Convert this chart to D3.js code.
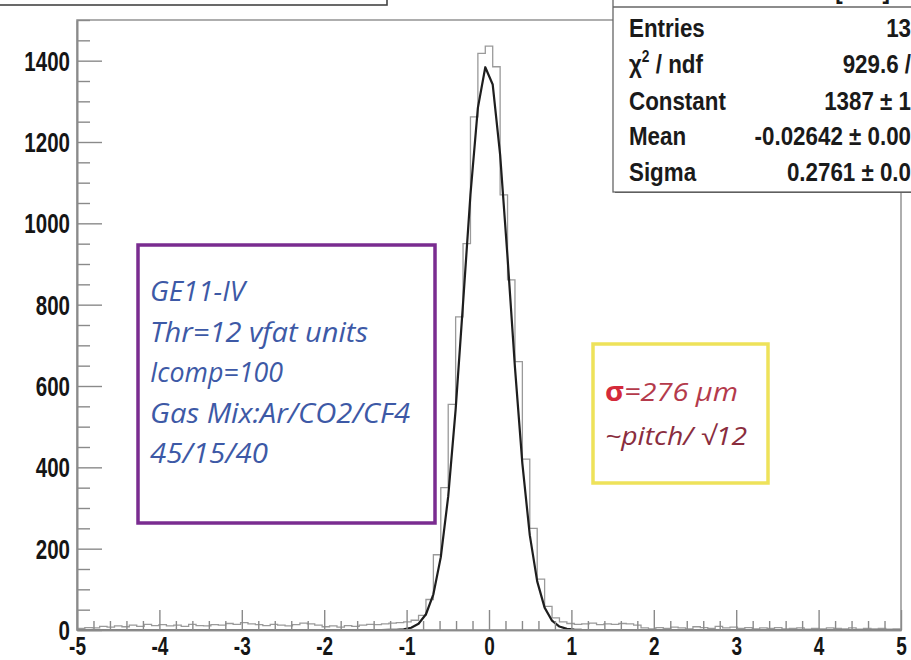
<!DOCTYPE html>
<html>
<head>
<meta charset="utf-8">
<script src="https://cdn.jsdelivr.net/npm/d3@7"></script>
<style>
  html, body { margin: 0; padding: 0; background: #fff; overflow: hidden; }
  svg { display: block; }
</style>
</head>
<body>
<svg id="chart" width="911" height="660"></svg>
<script>
// Residual distribution, 111 bins of 0.09 mm centred on multiples of 0.09
const binWidth = 0.09;
const binIndex = d3.range(-55, 56);
const binCounts = [
  4, 6, 5, 9, 7, 10, 8, 12, 9, 14, 11, 13, 10, 12, 9, 14, 11, 10, 13, 12,
  16, 14, 18, 15, 13, 11, 14, 12, 10, 13, 17, 15, 12, 8, 10, 7, 11, 9, 12, 14,
  13, 15, 17, 18, 20,
  24, 36, 75, 185, 350, 555, 770, 950, 1262, 1418, 1436, 1385, 1070, 861, 660, 420, 250, 125, 58, 30, 20,
  16, 14, 15, 17, 13, 15, 14, 16, 15, 12,
  5, 3, 6, 4, 7, 5, 3, 8, 6, 4, 9, 5, 7, 4, 6, 3, 5, 4, 6, 3,
  4, 5, 2, 4, 3, 5, 4, 3, 5, 2, 4, 3, 4, 2, 3
];

// Gaussian fit parameters
const fitConstant = 1387;
const fitMean = -0.02642;
const fitSigma = 0.2761;

// Axis ticks
const xTicks = [-5, -4, -3, -2, -1, 0, 1, 2, 3, 4, 5];
const xMinorTicks = d3.range(-50, 51, 2).filter(k => k % 10 !== 0).map(k => k / 10);
const yTicks = [0, 200, 400, 600, 800, 1000, 1200, 1400];
const yMinorTicks = d3.range(0, 1501, 50).filter(v => v % 200 !== 0);

// Statistics box rows (right column runs past the canvas edge)
const statLabels = ["Entries", "χ2 / ndf", "Constant", "Mean", "Sigma"];
const statValues = ["13", "929.6 /", "1387 ± 1", "-0.02642 ± 0.00", "0.2761 ± 0.0"];

// Annotation boxes
const setupLines = ["GE11-IV", "Thr=12 vfat units", "Icomp=100", "Gas Mix:Ar/CO2/CF4", "45/15/40"];
const setupWidths = [95, 218, 133, 260, 118];
const resolutionLines = ["σ=276 μm", "~pitch/ √12"];

const svg = d3.select("#chart");
const W = 911, H = 660;
const plot = { left: 77, right: 901, top: 20, bottom: 630 };

const x = d3.scaleLinear().domain([-5, 5]).range([plot.left, plot.right]);
const y = d3.scaleLinear().domain([0, 1500]).range([plot.bottom, plot.top]);

const sansFont = "'Liberation Sans', Arial, sans-serif";

svg.append("rect").attr("width", W).attr("height", H).attr("fill", "#fff");

svg.append("defs").append("clipPath").attr("id", "plotClip")
  .append("rect")
  .attr("x", plot.left).attr("y", plot.top)
  .attr("width", plot.right - plot.left).attr("height", plot.bottom - plot.top);

// Histogram outline
const histPts = [];
binIndex.forEach((k, i) => {
  const c = k * binWidth;
  histPts.push([c - binWidth / 2, binCounts[i]]);
  histPts.push([c + binWidth / 2, binCounts[i]]);
});
histPts.unshift([histPts[0][0], 0]);
histPts.push([histPts[histPts.length - 1][0], 0]);

const lineGen = d3.line().x(d => x(d[0])).y(d => y(d[1]));

const dataLayer = svg.append("g").attr("clip-path", "url(#plotClip)");
dataLayer.append("path")
  .attr("d", lineGen(histPts))
  .attr("fill", "none")
  .attr("stroke", "#9a9a9a")
  .attr("stroke-width", 1.3);

// Fit curve sampled at the bin edges
const gauss = v => fitConstant * Math.exp(-0.5 * Math.pow((v - fitMean) / fitSigma, 2));
const fitPts = d3.range(binIndex.length + 1).map(i => {
  const v = (binIndex[0] - 0.5) * binWidth + i * binWidth;
  return [v, gauss(v)];
});
dataLayer.append("path")
  .attr("d", lineGen(fitPts))
  .attr("fill", "none")
  .attr("stroke", "#1e1e1e")
  .attr("stroke-width", 2.2)
  .attr("stroke-linejoin", "round");

// Frame
svg.append("rect")
  .attr("x", plot.left).attr("y", plot.top)
  .attr("width", plot.right - plot.left).attr("height", plot.bottom - plot.top)
  .attr("fill", "none").attr("stroke", "#9a9a9a").attr("stroke-width", 1.6);

// X axis
const xAxisG = svg.append("g").attr("transform", `translate(0,${plot.bottom})`);
xAxisG.call(d3.axisBottom(x).tickValues(xTicks).tickSize(-20).tickSizeOuter(0)
  .tickFormat(d => String(d)));
const xMinorG = svg.append("g").attr("transform", `translate(0,${plot.bottom})`);
xMinorG.call(d3.axisBottom(x).tickValues(xMinorTicks).tickSize(-9).tickSizeOuter(0).tickFormat(""));

// Y axis
const yAxisG = svg.append("g").attr("transform", `translate(${plot.left},0)`);
yAxisG.call(d3.axisLeft(y).tickValues(yTicks).tickSize(-25).tickSizeOuter(0)
  .tickFormat(d => String(d)));
const yMinorG = svg.append("g").attr("transform", `translate(${plot.left},0)`);
yMinorG.call(d3.axisLeft(y).tickValues(yMinorTicks).tickSize(-13).tickSizeOuter(0).tickFormat(""));

[xAxisG, xMinorG, yAxisG, yMinorG].forEach(g => {
  g.select(".domain").attr("stroke", "#8a8a8a").attr("stroke-width", 1.6);
  g.selectAll(".tick line").attr("stroke", "#8a8a8a").attr("stroke-width", 1.4);
});

// Condensed bold tick labels
xAxisG.selectAll(".tick text")
  .attr("x", 0).attr("y", 0).attr("dy", null)
  .attr("transform", "translate(0,25) scale(0.76,1)")
  .attr("text-anchor", "middle")
  .attr("fill", "#151515")
  .style("font-family", sansFont).style("font-weight", "bold").style("font-size", "25px");
yAxisG.selectAll(".tick text")
  .attr("x", 0).attr("y", 0).attr("dy", "0.35em")
  .attr("transform", "translate(-7,0) scale(0.76,1)")
  .attr("text-anchor", "end")
  .attr("fill", "#151515")
  .style("font-family", sansFont).style("font-weight", "bold").style("font-size", "27px");

// Title box, cut by the top edge
svg.append("rect")
  .attr("x", -5).attr("y", -40).attr("width", 392).attr("height", 45)
  .attr("fill", "#fff").attr("stroke", "#444").attr("stroke-width", 1.6);

// Statistics box
const statG = svg.append("g");
statG.append("rect")
  .attr("x", 615).attr("y", 190).attr("width", 320).attr("height", 3)
  .attr("fill", "#555");
statG.append("rect")
  .attr("x", 613).attr("y", -40).attr("width", 320).attr("height", 232)
  .attr("fill", "#fff").attr("stroke", "#666").attr("stroke-width", 1.3);
statG.append("line")
  .attr("x1", 613).attr("x2", W + 5).attr("y1", 7).attr("y2", 7)
  .attr("stroke", "#666").attr("stroke-width", 1.3);

function condensedText(parent, tx, ty, sx, size, anchor) {
  return parent.append("text")
    .attr("transform", `translate(${tx},${ty}) scale(${sx},1)`)
    .attr("text-anchor", anchor)
    .style("font-family", sansFont).style("font-weight", "bold").style("font-size", size + "px")
    .attr("fill", "#1a1a1a");
}

condensedText(statG, 890, -1, 0.86, 26, "end").text("[mm]");

const rowBase = [37, 73, 110, 145, 181];
statLabels.forEach((lab, i) => {
  const t = condensedText(statG, 629, rowBase[i], 0.86, 26, "start");
  if (lab.startsWith("χ2")) {
    t.append("tspan").text("χ");
    t.append("tspan").attr("dy", -11).style("font-size", "16px").text("2");
    t.append("tspan").attr("dy", 11).text(lab.slice(2));
  } else {
    t.text(lab);
  }
  condensedText(statG, 911, rowBase[i], 0.86, 26, "end").text(statValues[i]);
});

// Detector settings box
const handFont = "'Open Sans', 'Noto Sans', sans-serif";
svg.append("rect")
  .attr("x", 138).attr("y", 245).attr("width", 297).attr("height", 278)
  .attr("fill", "#fff").attr("stroke", "#7a2c90").attr("stroke-width", 3.5);
setupLines.forEach((s, i) => {
  svg.append("text")
    .attr("x", 150).attr("y", 301 + i * 40.5)
    .attr("textLength", setupWidths[i])
    .attr("lengthAdjust", "spacingAndGlyphs")
    .style("font-family", handFont).style("font-style", "italic").style("font-weight", 400)
    .style("font-size", "27px")
    .attr("fill", "#3d59a6")
    .text(s);
});

// Resolution box
svg.append("rect")
  .attr("x", 593).attr("y", 344).attr("width", 175).attr("height", 139)
  .attr("fill", "#fff").attr("stroke", "#eee25a").attr("stroke-width", 3.5);
const r1 = svg.append("text")
  .attr("x", 605).attr("y", 401)
  .attr("textLength", 133).attr("lengthAdjust", "spacingAndGlyphs")
  .style("font-family", handFont).style("font-style", "italic").style("font-weight", 400)
  .style("font-size", "26px")
  .attr("fill", "#b43a4b");
r1.append("tspan").attr("fill", "#d42a3a").style("font-weight", 700).style("font-style", "normal")
  .text(resolutionLines[0].slice(0, 1));
r1.append("tspan").text(resolutionLines[0].slice(1));
svg.append("text")
  .attr("x", 605).attr("y", 445)
  .attr("textLength", 142).attr("lengthAdjust", "spacingAndGlyphs")
  .style("font-family", handFont).style("font-style", "italic").style("font-weight", 400)
  .style("font-size", "26px")
  .attr("fill", "#8a2d3e")
  .text(resolutionLines[1]);
</script>
</body>
</html>
